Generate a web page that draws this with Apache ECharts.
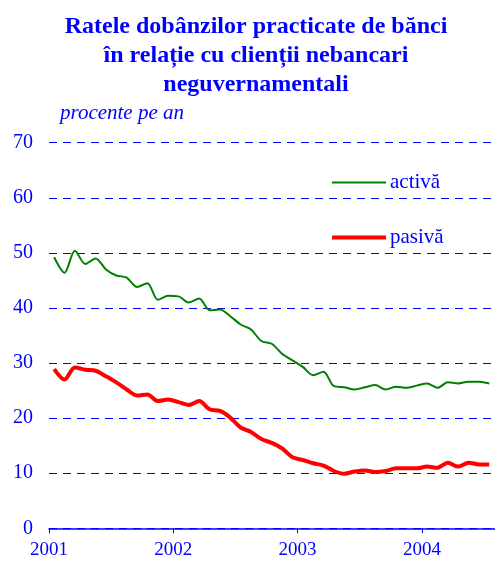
<!DOCTYPE html>
<html>
<head>
<meta charset="utf-8">
<script src="https://cdn.jsdelivr.net/npm/echarts@6/dist/echarts.min.js"></script>
<style>
  html, body { margin: 0; padding: 0; background: #fff; }
  #chart { width: 495px; height: 561px; }
</style>
</head>
<body>
<div id="chart"></div>
<script>
// monthly values, Jan 2001 .. Jul 2004 (placed mid-month)
const startYear = 2001
const yearTicks = [2001, 2002, 2003, 2004]
const activa = [
  49.2, 46.4, 50.4, 48.0, 49.0, 47.0, 45.9, 45.5, 43.8, 44.5, 41.5, 42.2,
  42.1, 41.0, 41.7, 39.6, 39.7, 38.5, 37.0, 36.1, 34.0, 33.5, 31.7, 30.5,
  29.3, 27.8, 28.4, 25.8, 25.6, 25.2, 25.6, 26.0, 25.2, 25.7, 25.5, 25.9,
  26.3, 25.5, 26.5, 26.3, 26.6, 26.6, 26.3
]
const pasiva = [
  28.9, 27.0, 29.2, 28.8, 28.6, 27.6, 26.5, 25.2, 24.1, 24.3, 23.1, 23.4,
  22.9, 22.4, 23.1, 21.6, 21.3, 20.1, 18.3, 17.5, 16.2, 15.5, 14.5, 12.9,
  12.4, 11.8, 11.4, 10.4, 9.9, 10.3, 10.5, 10.2, 10.4, 10.9, 10.9, 10.9,
  11.2, 11.0, 11.9, 11.2, 11.9, 11.6, 11.6
]
const seriesNames = ['activă', 'pasivă']

const blue = '#0000ff'
const font = '"Liberation Serif", "Times New Roman", serif'

function toPoints(values) {
  return values.map((v, i) => [startYear + (i + 0.5) / 12, v])
}

function legendFor(name, top, thickness) {
  return {
    left: 332,
    top: top,
    padding: 0,
    icon: 'rect',
    itemWidth: 54,
    itemHeight: thickness,
    selectedMode: false,
    textStyle: { color: blue, fontFamily: font, fontSize: 21, padding: [0, 0, 0, -1] },
    data: [name],
  }
}

const chart = echarts.init(document.getElementById('chart'), null, { renderer: 'canvas' })
chart.setOption({
  animation: false,
  title: [{
    text: 'Ratele dobânzilor practicate de bănci\nîn relație cu clienții nebancari\nneguvernamentali',
    left: 251,
    top: 7,
    textAlign: 'center',
    textStyle: { color: blue, fontFamily: font, fontWeight: 'bold', fontSize: 24, lineHeight: 29 },
  }, {
    text: 'procente pe an',
    left: 55,
    top: 98,
    textStyle: { color: blue, fontFamily: font, fontStyle: 'italic', fontWeight: 'normal', fontSize: 21 },
  }],
  legend: [
    legendFor(seriesNames[0], 172, 2),
    legendFor(seriesNames[1], 227, 4),
  ],
  grid: { left: 49, right: 0, top: 142.7, bottom: 32.7, containLabel: false },
  xAxis: {
    type: 'value',
    min: startYear,
    max: 2004.588,
    interval: 1,
    splitLine: { show: false },
    axisLine: { lineStyle: { color: blue, width: 1.5 } },
    axisTick: { show: true, length: 5, lineStyle: { color: blue } },
    axisLabel: {
      color: blue, fontFamily: font, fontSize: 19, margin: 12,
      showMaxLabel: false,
      formatter: v => yearTicks.includes(v) ? String(v) : '',
    },
  },
  yAxis: {
    type: 'value',
    min: 0,
    max: 70,
    interval: 10,
    axisLine: { show: false },
    axisTick: { show: false },
    axisLabel: { color: blue, fontFamily: font, fontSize: 20, margin: 16 },
    splitLine: { lineStyle: { color: blue, type: [8, 6], width: 1 } },
  },
  series: [{
    name: seriesNames[0],
    type: 'line',
    data: toPoints(activa),
    smooth: 0.3,
    symbol: 'none',
    lineStyle: { color: '#008000', width: 2 },
    itemStyle: { color: '#008000' },
  }, {
    name: seriesNames[1],
    type: 'line',
    data: toPoints(pasiva),
    smooth: 0.3,
    symbol: 'none',
    lineStyle: { color: '#ff0000', width: 4 },
    itemStyle: { color: '#ff0000' },
  }],
})
</script>
</body>
</html>
